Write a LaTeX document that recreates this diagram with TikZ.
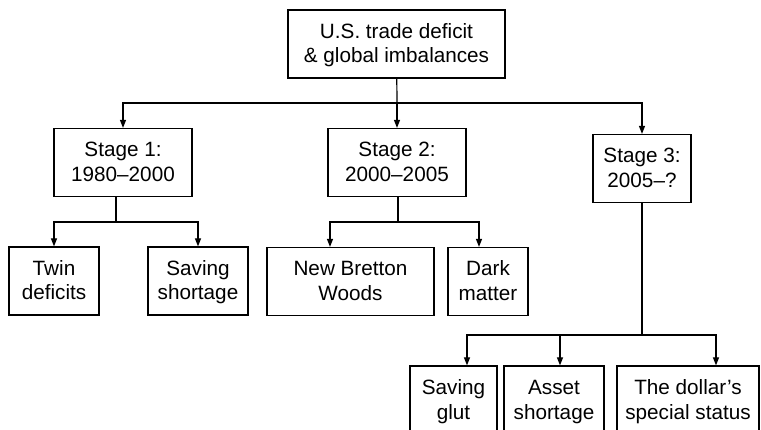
\documentclass[tikz,border=0pt]{standalone}
\usepackage{fontspec}
\setmainfont{Liberation Sans}
\usetikzlibrary{arrows.meta}

\begin{document}
\begin{tikzpicture}[x=1pt,y=-1pt,line width=1.2pt,
  box/.style={draw,align=center,inner sep=0pt,minimum height=68,
    font=\fontsize{20.7}{24.5}\selectfont},
  arr/.style={-{Triangle[length=8pt,width=6pt]}}]

\def\vs{\rule[-4pt]{0pt}{21pt}}
\useasboundingbox (0,0) rectangle (761,430);
\clip (0,0) rectangle (761,430);

\node[box,minimum width=217] (top) at (396.5,44) {\vs U.S. trade deficit\\\vs\& global imbalances};

%stages
\node[box,minimum width=138] (s1) at (123,162.5) {\vs Stage 1:\\\vs 1980–2000};
\node[box,minimum width=138] (s2) at (397,162.5) {\vs Stage 2:\\\vs 2000–2005};
\node[box,minimum width=98] (s3) at (642,168.5) {\vs Stage 3:\\\vs 2005–?};

\coordinate (j0) at (397,103);
\draw (top) -- (j0);
\draw[arr] (j0) -| (s1);
\draw[arr] (j0) -- (s2);
\draw[arr] (j0) -| (s3);

%stage 1
\node[box,minimum width=90] (twin) at (54,281) {\vs Twin\\\vs deficits};
\node[box,minimum width=100] (short) at (198,281) {\vs Saving\\\vs shortage};

\coordinate (j1) at (116,222);
\draw (j1 |- s1.south) -- (j1);
\draw[arr] (j1) -| (twin);
\draw[arr] (j1) -| (short);

%stage 2
\node[box,minimum width=167] (nbw) at (350.5,281.5) {\vs New Bretton\\\vs Woods};
\node[box,minimum width=80] (dark) at (488,281.5) {\vs Dark\\\vs matter};

\coordinate (j2) at (398,222);
\draw (j2 |- s2.south) -- (j2);
\draw[arr] (j2) -| ([xshift=-20.5]nbw.north);
\draw[arr] (j2) -| ([xshift=-9]dark.north);

%stage 3
\node[box,minimum width=87,minimum height=69] (glut) at (453.5,400.5) {\vs Saving\\\vs glut};
\node[box,minimum width=100,minimum height=69] (asset) at (554,400.5) {\vs Asset\\\vs shortage};
\node[box,minimum width=142,minimum height=69] (dollar) at (688,400.5) {\vs The dollar’s\\\vs special status};

\coordinate (j3) at (642,335);
\draw (s3) -- (j3);
\draw[arr] (j3) -| ([xshift=13.5]glut.north);
\draw[arr] (j3) -| ([xshift=6]asset.north);
\draw[arr] (j3) -| ([xshift=28]dollar.north);

\end{tikzpicture}
\end{document}
